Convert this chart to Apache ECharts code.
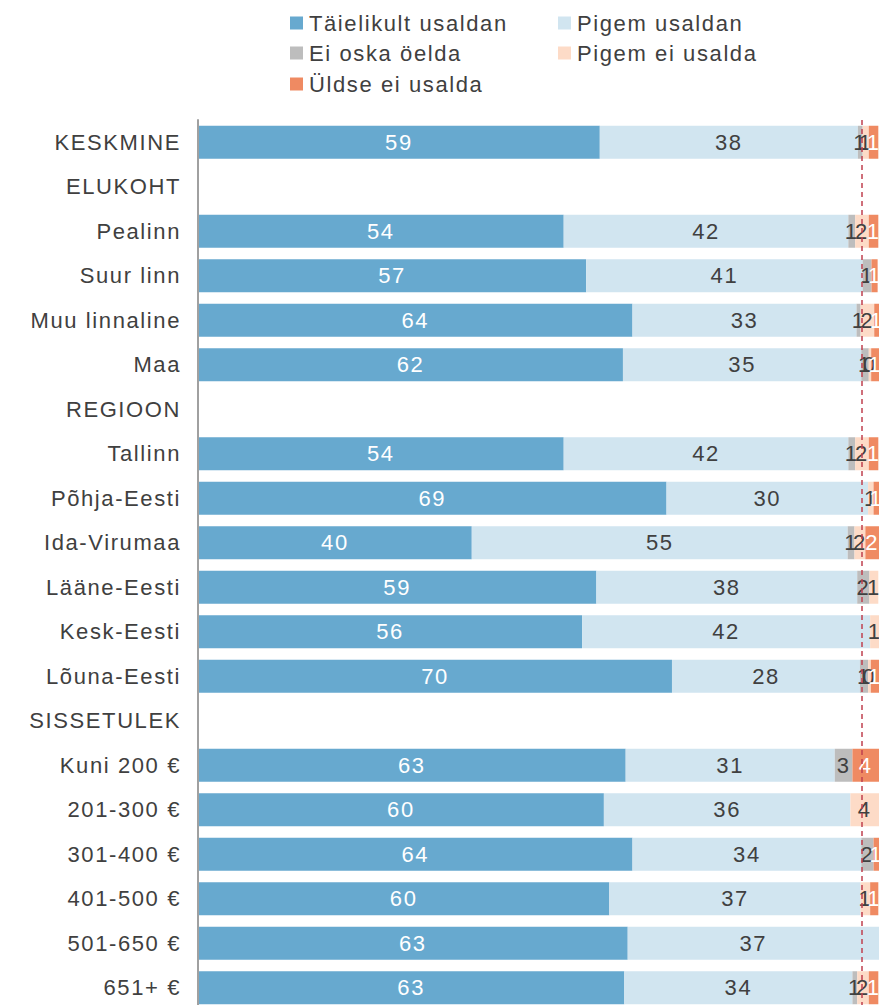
<!DOCTYPE html>
<html>
<head>
<meta charset="utf-8">
<script src="https://cdn.jsdelivr.net/npm/echarts@6/dist/echarts.min.js"></script>
<style>
  html, body { margin: 0; padding: 0; background: #fff; overflow: hidden; }
  #chart { width: 879px; height: 1012px; }
  #chart svg text { letter-spacing: 1.6px; }
</style>
</head>
<body>
<div id="chart"></div>
<script>
const categories = ['KESKMINE','ELUKOHT','Pealinn','Suur linn','Muu linnaline','Maa','REGIOON','Tallinn','Põhja-Eesti','Ida-Virumaa','Lääne-Eesti','Kesk-Eesti','Lõuna-Eesti','SISSETULEK','Kuni 200 €','201-300 €','301-400 €','401-500 €','501-650 €','651+ €'];
const seriesNames = ['Täielikult usaldan','Pigem usaldan','Ei oska öelda','Pigem ei usalda','Üldse ei usalda'];
const taielikult = [59.0, null, 53.7, 57.0, 63.8, 62.4, null, 53.7, 68.8, 40.2, 58.5, 56.4, 69.6, null, 62.8, 59.6, 63.8, 60.4, 63.1, 62.6];
const pigemUsaldan = [37.9, null, 41.8, 40.6, 32.9, 35.0, null, 41.8, 29.6, 55.2, 38.3, 42.3, 27.6, null, 30.7, 36.2, 33.6, 36.9, 36.9, 33.5];
const eiOska = [0.7, null, 1.0, 1.3, 0.6, 1.1, null, 1.0, null, 1.0, 1.8, null, 1.2, null, 2.6, null, 1.8, null, null, 0.7];
const pigemEi = [0.9, null, 2.0, null, 2.0, 0.35, null, 2.0, 0.8, 1.6, 1.3, 1.3, 0.4, null, null, 4.2, null, 1.4, null, 1.7];
const yldseEi = [1.4, null, 1.4, 0.9, 0.7, 1.2, null, 1.4, 0.8, 2.0, null, null, 1.2, null, 3.9, null, 0.8, 1.2, null, 1.4];
const referenceLine = 97.5;

const values = [taielikult, pigemUsaldan, eiOska, pigemEi, yldseEi];
const colors = ['#67a9cf', '#d1e5f0', '#bdbdbd', '#fddbc7', '#ef8a62'];
const labelColors = ['#ffffff', '#404040', '#404040', '#404040', '#ffffff'];
const FONT = '"Liberation Sans", Arial, sans-serif';

const chart = echarts.init(document.getElementById('chart'), null, { renderer: 'svg' });

const legendPos = [[290, 12], [558, 12], [290, 42], [558, 42], [290, 73]];
const legends = seriesNames.map((n, i) => ({
  data: [n], left: legendPos[i][0], top: legendPos[i][1], padding: 0,
  itemWidth: 13, itemHeight: 13, icon: 'rect', selectedMode: false,
  textStyle: { fontSize: 22, color: '#404040', fontFamily: FONT, padding: [0, 0, 0, 1] }
}));

const series = seriesNames.map((n, i) => ({
  name: n, type: 'bar', stack: 'total', barWidth: 33,
  data: values[i],
  itemStyle: { color: colors[i] },
  label: {
    show: true, position: 'inside', color: labelColors[i], fontSize: 22, fontFamily: FONT,
    formatter: p => (p.value == null ? '' : String(Math.round(p.value)))
  },
  emphasis: { disabled: true },
  animation: false
}));
series[4].markLine = {
  silent: true, symbol: 'none', animation: false,
  label: { show: false },
  lineStyle: { color: '#c0404f', type: [5, 4], width: 1.5 },
  data: [{ xAxis: referenceLine }]
};

chart.setOption({
  animation: false,
  legend: legends,
  grid: { left: 198, right: 0, top: 120, bottom: 2, containLabel: false },
  xAxis: { type: 'value', min: 0, max: 100, show: false },
  yAxis: {
    type: 'category', data: categories, inverse: true, z: 5,
    axisLine: { show: true, lineStyle: { color: '#a0a0a0', width: 2 } },
    axisTick: { show: false },
    axisLabel: { color: '#404040', fontSize: 22, fontFamily: FONT, margin: 17 }
  },
  series: series
});
</script>
</body>
</html>
